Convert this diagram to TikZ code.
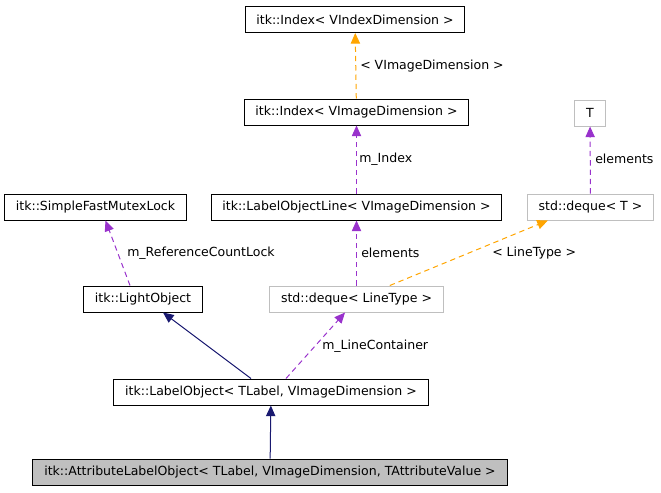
\documentclass[tikz,border=0pt]{standalone}
\usepackage{fontspec}
\setmainfont{DejaVu Sans}
\usetikzlibrary{arrows.meta, positioning}
\definecolor{dxnavy}{RGB}{25,25,112}
\definecolor{dxpurple}{RGB}{153,50,204}
\definecolor{dxorange}{RGB}{255,165,0}
\definecolor{dxgray}{RGB}{191,191,191}
\tikzset{
  cbox/.style={draw=black, line width=0.75pt, fill=white, inner xsep=8.5pt, inner ysep=0pt, minimum height=19.5pt, font=\fontsize{9.4}{11}\selectfont},
  cext/.style={cbox, draw=dxgray},
  cself/.style={cbox, fill=dxgray},
  cinh/.style={-{Triangle[length=8pt, width=7pt]}, line width=0.75pt, dxnavy},
  cuse/.style={-{Triangle[length=8pt, width=7pt]}, line width=0.75pt, dashed, dash pattern=on 4pt off 3pt, dxpurple},
  ctpl/.style={-{Triangle[length=8pt, width=7pt]}, line width=0.75pt, dashed, dash pattern=on 4pt off 3pt, dxorange},
  clbl/.style={font=\fontsize{9.4}{11}\selectfont, inner sep=0pt, anchor=west},
}
\begin{document}
\begin{tikzpicture}[x=0.75pt, y=-0.75pt]
    \useasboundingbox (0,0) rectangle (661,493);
    \node[cbox] (idxv) at (355,19.5) {itk::Index< VIndexDimension >};
    \node[cbox] (idxi) at (356.5,112) {itk::Index< VImageDimension >};
    \node[cext] (tt) at (590,113) {T};
    \node[cbox] (lock) at (95.5,207) {itk::SimpleFastMutexLock};
    \node[cbox] (line) at (356.5,207) {itk::LabelObjectLine< VImageDimension >};
    \node[cext] (dqt) at (590.5,207) {std::deque< T >};
    \node[cbox] (light) at (143,299) {itk::LightObject};
    \node[cext] (dql) at (356.5,299) {std::deque< LineType >};
    \node[cbox] (lobj) at (271,392) {itk::LabelObject< TLabel, VImageDimension >};
    \node[cself] (alobj) at (270,472) {itk::AttributeLabelObject< TLabel, VImageDimension, TAttributeValue >};
    % templates
    \draw[ctpl] (idxi) -- (idxv);
    \draw[ctpl] ([xshift=25pt]dql.north) -- ([xshift=-32pt]dqt.south);
    % members
    \draw[cuse] (line) -- (idxi);
    \draw[cuse] (dqt) -- (tt);
    \draw[cuse] ([xshift=-9.75pt]light.north) -- ([xshift=7.5pt]lock.south);
    \draw[cuse] (dql) -- (line);
    \draw[cuse] ([xshift=11.25pt]lobj.north) -- ([xshift=-8.6pt]dql.south);
    % inheritance
    \draw[cinh] ([xshift=-15pt]lobj.north) -- ([xshift=15pt]light.south);
    \draw[cinh] (alobj) -- (lobj);
    % labels
    \node[clbl] (l1) at (360,66) {< VImageDimension >};
    \node[clbl] (l2) at (359,159) {m\_Index};
    \node[clbl] (l3) at (595,159) {elements};
    \node[clbl] (l4) at (127,253) {m\_ReferenceCountLock};
    \node[clbl] (l5) at (361,253) {elements};
    \node[clbl] (l6) at (492,253) {< LineType >};
    \node[clbl] (l7) at (322,346) {m\_LineContainer};
\end{tikzpicture}
\end{document}
